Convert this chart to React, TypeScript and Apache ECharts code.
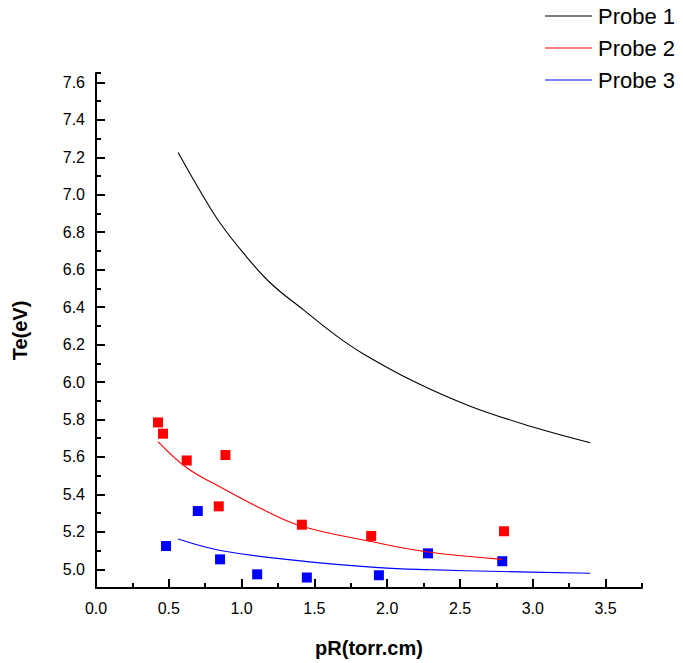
import React, { useEffect, useRef } from "react";
import * as echarts from "echarts";

// Fitted curves: pR (torr.cm) vs Te (eV)
const probe1CurveX = [0.564, 0.737, 0.852, 1.012, 1.196, 1.425, 1.654, 1.837, 2.181, 2.57, 2.983, 3.395];
const probe1CurveY = [7.226, 6.991, 6.849, 6.689, 6.53, 6.385, 6.245, 6.15, 6.004, 5.871, 5.764, 5.676];

const probe2CurveX = [0.426, 0.623, 0.875, 1.15, 1.414, 1.89, 2.28, 2.79];
const probe2CurveY = [5.681, 5.542, 5.43, 5.318, 5.23, 5.148, 5.092, 5.053];

const probe3CurveX = [0.564, 0.875, 1.448, 1.943, 2.28, 2.79, 3.395];
const probe3CurveY = [5.162, 5.098, 5.041, 5.009, 4.998, 4.988, 4.979];

// Measured points
const probe2PointsX = [0.426, 0.46, 0.623, 0.889, 0.843, 1.414, 1.89, 2.802];
const probe2PointsY = [5.784, 5.724, 5.581, 5.61, 5.336, 5.238, 5.178, 5.203];

const probe3PointsX = [0.481, 0.699, 0.852, 1.107, 1.448, 1.943, 2.28, 2.79];
const probe3PointsY = [5.124, 5.311, 5.053, 4.973, 4.956, 4.968, 5.085, 5.043];

const xTicks = [0, 0.5, 1.0, 1.5, 2.0, 2.5, 3.0, 3.5];
const yTicks = [5.0, 5.2, 5.4, 5.6, 5.8, 6.0, 6.2, 6.4, 6.6, 6.8, 7.0, 7.2, 7.4, 7.6];

const seriesNames = ["Probe 1", "Probe 2", "Probe 3"];
const seriesColors = ["#000000", "#ff0000", "#0000ff"];

const zip = (xs: number[], ys: number[]) => xs.map((x, i) => [x, ys[i]]);

const FONT = "'Liberation Sans', Arial, sans-serif";

export default function App() {
  const ref = useRef<HTMLDivElement>(null);

  useEffect(() => {
    if (!ref.current) return;
    const chart = echarts.init(ref.current, null, { renderer: "svg" });

    const axisLine = { show: true, lineStyle: { color: "#000", width: 2 } };
    const curve = (name: string, xs: number[], ys: number[], color: string) => ({
      name,
      type: "line",
      data: zip(xs, ys),
      smooth: 0.4,
      symbol: "none",
      color,
      itemStyle: { color },
      lineStyle: { color, width: 1.1 },
    });
    const points = (name: string, xs: number[], ys: number[], color: string) => ({
      name,
      type: "scatter",
      data: zip(xs, ys),
      symbol: "rect",
      symbolSize: 10,
      itemStyle: { color, opacity: 1 },
    });

    chart.setOption({
      animation: false,
      backgroundColor: "#fff",
      textStyle: { fontFamily: FONT },
      grid: { left: 96, right: 41, top: 73, bottom: 74 },
      legend: {
        data: seriesNames.map((n, i) => ({
          name: n,
          icon: "rect",
          itemStyle: { color: seriesColors[i] },
        })),
        orient: "vertical",
        left: 540,
        top: 0,
        padding: [5, 0, 5, 5],
        itemWidth: 47,
        itemHeight: 1.2,
        itemGap: 10,
        textStyle: { fontSize: 22, color: "#000", fontFamily: FONT, padding: [0, 0, 0, 1] },
      },
      xAxis: [
        {
          type: "value",
          min: 0,
          max: 3.75,
          name: "pR(torr.cm)",
          nameLocation: "middle",
          nameGap: 50,
          nameTextStyle: { fontSize: 20, fontWeight: "bold", color: "#000", fontFamily: FONT },
          axisLine,
          splitLine: { show: false },
          axisTick: {
            inside: true,
            length: 9,
            lineStyle: { color: "#000", width: 2 },
            customValues: xTicks,
          },
          axisLabel: {
            customValues: xTicks,
            formatter: (v: number) => v.toFixed(1),
            fontSize: 16,
            color: "#000",
            margin: 12,
            fontFamily: FONT,
          },
        },
        {
          type: "value",
          min: 0,
          max: 3.75,
          interval: 0.25,
          position: "bottom",
          offset: 0,
          axisLine: { show: false },
          splitLine: { show: false },
          axisTick: { inside: true, length: 5, lineStyle: { color: "#000", width: 2 } },
          axisLabel: { show: false },
        },
      ],
      yAxis: [
        {
          type: "value",
          min: 4.9,
          max: 7.65,
          name: "Te(eV)",
          nameLocation: "middle",
          nameGap: 66,
          nameTextStyle: { fontSize: 20, fontWeight: "bold", color: "#000", fontFamily: FONT },
          axisLine,
          splitLine: { show: false },
          axisTick: {
            inside: true,
            length: 9,
            lineStyle: { color: "#000", width: 2 },
            customValues: yTicks,
          },
          axisLabel: {
            customValues: yTicks,
            formatter: (v: number) => v.toFixed(1),
            fontSize: 16,
            color: "#000",
            margin: 11,
            fontFamily: FONT,
          },
        },
        {
          type: "value",
          min: 4.9,
          max: 7.65,
          interval: 0.1,
          position: "left",
          offset: 0,
          axisLine: { show: false },
          splitLine: { show: false },
          axisTick: { inside: true, length: 5, lineStyle: { color: "#000", width: 2 } },
          axisLabel: { show: false },
        },
      ],
      series: [
        curve(seriesNames[0], probe1CurveX, probe1CurveY, seriesColors[0]),
        curve(seriesNames[1], probe2CurveX, probe2CurveY, seriesColors[1]),
        curve(seriesNames[2], probe3CurveX, probe3CurveY, seriesColors[2]),
        points("Probe 2 data", probe2PointsX, probe2PointsY, seriesColors[1]),
        points("Probe 3 data", probe3PointsX, probe3PointsY, seriesColors[2]),
      ],
    });

    return () => chart.dispose();
  }, []);

  return (
    <div
      ref={ref}
      style={{ position: "fixed", left: 0, top: 0, width: 683, height: 663, background: "#fff" }}
    />
  );
}
